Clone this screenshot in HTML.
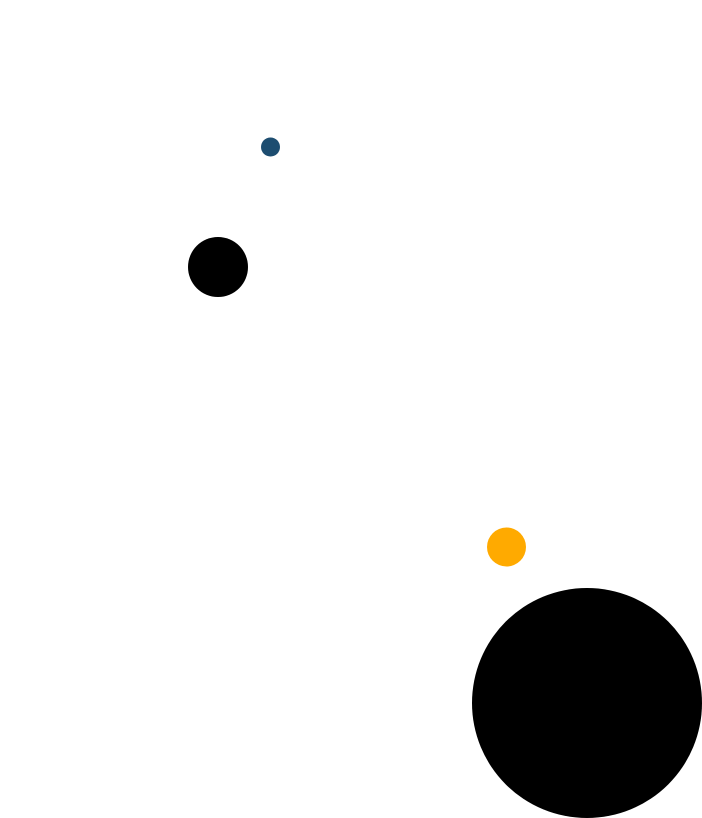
<!DOCTYPE html>
<html><head><meta charset="utf-8"><style>html,body{margin:0;padding:0;background:#fff;width:702px;height:818px;overflow:hidden}</style></head>
<body>
<svg width="702" height="818" xmlns="http://www.w3.org/2000/svg" style="display:block">
<circle cx="270.5" cy="147" r="9.5" fill="#1d4d70"/>
<circle cx="218" cy="267" r="30" fill="#000"/>
<circle cx="506.5" cy="547" r="19.5" fill="#ffaa00"/>
<circle cx="587" cy="703" r="115" fill="#000"/>
</svg>
</body></html>
